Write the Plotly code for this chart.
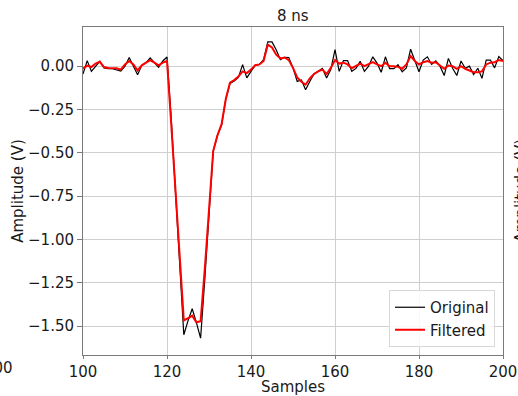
import plotly.graph_objects as go

samples = list(range(100, 201))

original = [
    -0.045, 0.032, -0.03, 0.0, 0.028, -0.01, -0.015, -0.015, -0.02, -0.028,
    0.0, 0.05, 0.0, -0.05, 0.005, 0.02, 0.047, 0.02, -0.007, 0.03,
    0.053, -0.30, -0.72, -1.15, -1.55, -1.47, -1.40, -1.48, -1.57, -1.23,
    -0.83, -0.49, -0.40, -0.34, -0.19, -0.10, -0.085, -0.065, 0.009, -0.068,
    -0.03, 0.005, 0.01, 0.037, 0.14, 0.14, 0.095, 0.037, 0.051, 0.05,
    -0.01, -0.088, -0.08, -0.136, -0.088, -0.045, -0.03, -0.013, -0.068, -0.02,
    0.096, -0.03, 0.032, 0.032, -0.03, -0.013, 0.028, -0.03, 0.0, 0.054,
    0.018, -0.035, 0.054, -0.014, -0.014, 0.008, -0.032, -0.01, 0.098, 0.03,
    -0.032, 0.035, 0.054, 0.01, 0.03, 0.0, -0.054, 0.045, -0.012, -0.054,
    0.03, -0.012, 0.0, -0.048, -0.012, -0.07, 0.035, 0.035, -0.01, 0.056,
    0.032,
]

filtered = [
    -0.014, 0.003, -0.005, 0.015, 0.025, -0.005, -0.01, -0.01, -0.012, -0.02,
    0.01, 0.03, 0.01, -0.025, 0.005, 0.02, 0.035, 0.02, 0.005, 0.02,
    0.03, -0.33, -0.72, -1.10, -1.467, -1.455, -1.44, -1.478, -1.472, -1.17,
    -0.83, -0.49, -0.40, -0.335, -0.19, -0.095, -0.08, -0.06, -0.03, -0.04,
    -0.02, 0.005, 0.01, 0.03, 0.124, 0.108, 0.066, 0.045, 0.05, 0.035,
    -0.01, -0.065, -0.09, -0.107, -0.07, -0.045, -0.03, -0.02, -0.045, -0.01,
    0.035, 0.015, 0.02, 0.01, -0.012, 0.0, 0.015, 0.0, 0.01, 0.023,
    0.01, 0.0, 0.02, 0.0, 0.0, -0.004, -0.015, 0.01, 0.058, 0.03,
    0.01, 0.023, 0.03, 0.02, 0.023, 0.004, -0.015, 0.004, 0.0, -0.015,
    0.0, -0.015, -0.023, -0.035, -0.035, -0.03, 0.01, 0.02, 0.023, 0.035,
    0.03,
]

x_ticks = [100, 120, 140, 160, 180, 200]
y_ticks = [0.0, -0.25, -0.5, -0.75, -1.0, -1.25, -1.5]

title_text = "8 ns"
x_label = "Samples"
y_label = "Amplitude (V)"

FONT = "DejaVu Sans"
TXT = "#1a1a1a"
FS = 15

ML, MR, MT, MB = 83, 15, 27, 41
W, H = 518, 396
PW = W - ML - MR
PH = H - MT - MB

fig = go.Figure()
fig.add_trace(go.Scatter(x=samples, y=original, mode="lines", name="Original",
                         line=dict(color="black", width=1.2)))
fig.add_trace(go.Scatter(x=samples, y=filtered, mode="lines", name="Filtered",
                         line=dict(color="#ff0000", width=2)))

axis_common = dict(
    showgrid=True, gridcolor="#cfcfcf", gridwidth=1,
    showline=True, linecolor="#7a7a7a", linewidth=1, mirror=True,
    ticks="outside", tickcolor="#7a7a7a", tickwidth=1,
    tickfont=dict(family=FONT, size=FS, color=TXT),
    zeroline=False, automargin=False,
)

fig.update_layout(
    width=W, height=H,
    margin=dict(l=ML, r=MR, t=MT, b=MB),
    paper_bgcolor="white", plot_bgcolor="white",
    font=dict(family=FONT, size=FS, color=TXT),
    showlegend=True,
    legend=dict(
        x=(495 - ML) / PW, y=(H - MB - 347) / PH, xanchor="right", yanchor="bottom",
        bgcolor="rgba(255,255,255,0.85)", bordercolor="#d8d8d8", borderwidth=1,
        font=dict(family=FONT, size=FS, color=TXT),
        itemwidth=30, tracegroupgap=2,
    ),
    xaxis=dict(range=[100, 200], tickvals=x_ticks, ticklen=3,
               title=dict(text=x_label, font=dict(family=FONT, size=FS, color=TXT), standoff=4),
               **axis_common),
    yaxis=dict(range=[-1.667, 0.226], tickvals=y_ticks, tickformat=".2f", ticklen=5,
               title=dict(text=y_label, font=dict(family=FONT, size=FS, color=TXT), standoff=0),
               **axis_common),
    annotations=[
        dict(text=title_text, xref="paper", yref="paper", x=0.5, y=1.0, yshift=0,
             xanchor="center", yanchor="bottom", showarrow=False,
             font=dict(family=FONT, size=FS, color=TXT)),
        dict(text="200", xref="paper", yref="paper", x=(-1.5 - ML) / PW, y=0, yshift=-2,
             xanchor="center", yanchor="top", showarrow=False,
             font=dict(family=FONT, size=FS, color=TXT)),
        dict(text=y_label, xref="paper", yref="paper", x=(509.5 - ML) / PW, y=0.5,
             xanchor="left", yanchor="middle", textangle=-90, showarrow=False,
             font=dict(family=FONT, size=FS, color=TXT)),
    ],
)

fig.write_html("out.html",
               config={"displayModeBar": False},
               post_script="document.body.style.margin='0';document.body.style.overflow='hidden';")
